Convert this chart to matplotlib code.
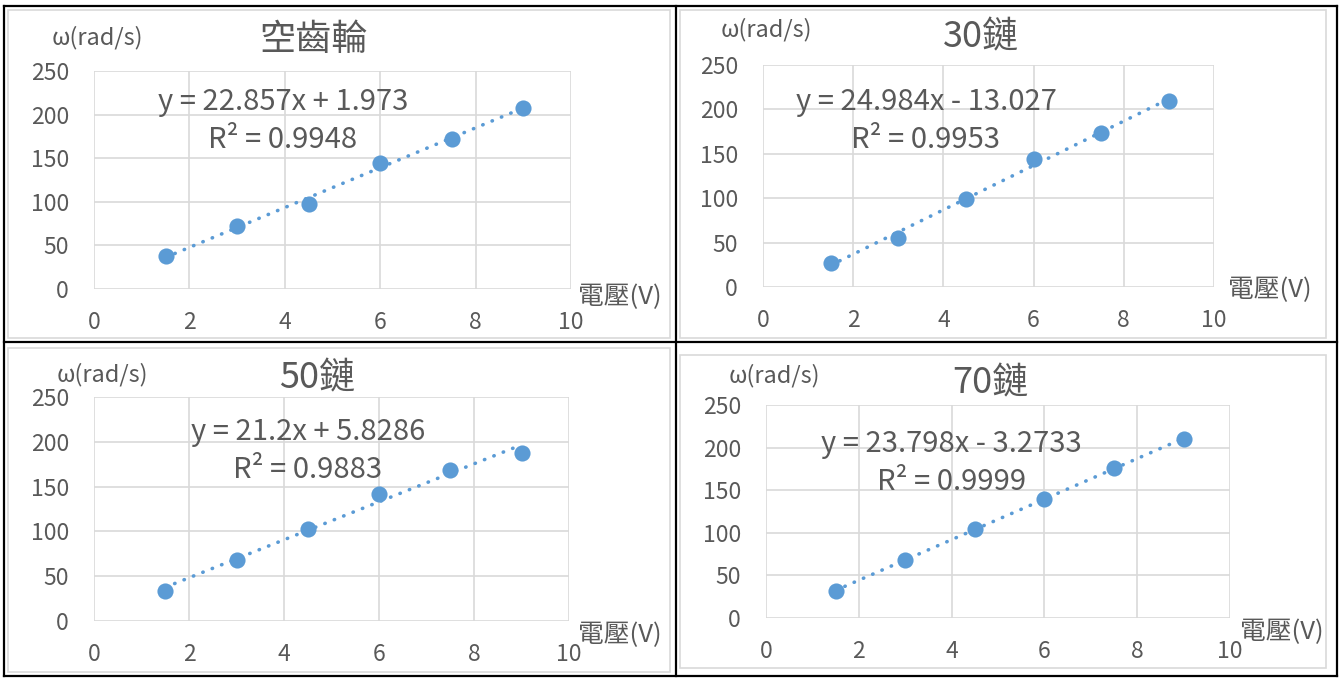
import numpy as np
import matplotlib
matplotlib.use("Agg")
from matplotlib import pyplot as plt
from matplotlib.lines import Line2D
from matplotlib.patches import Rectangle

plt.rcParams['font.family'] = ['Noto Sans CJK TC', 'DejaVu Sans']

# 電壓(V)
voltage = [1.5, 3, 4.5, 6, 7.5, 9]

# 角速度 ω(rad/s)
omega_empty = [38, 72, 97, 145, 172, 208]
omega_30 = [27, 55, 99, 144, 173, 210]
omega_50 = [33, 68, 103, 142, 169, 187]
omega_70 = [32, 68, 104, 140, 176, 210]

titles = ['空齒輪', '30鏈', '50鏈', '70鏈']
slopes = [22.857, 24.984, 21.2, 23.798]
intercepts = [1.973, -13.027, 5.8286, -3.2733]
r2_values = [0.9948, 0.9953, 0.9883, 0.9999]
eq_labels = ['y = 22.857x + 1.973', 'y = 24.984x - 13.027',
             'y = 21.2x + 5.8286', 'y = 23.798x - 3.2733']

W, H = 1341, 678
fig = plt.figure(figsize=(W / 100, H / 100), dpi=100)

BLUE = '#5B9BD5'
GRID = '#D9D9D9'
TXT = '#595959'

def px(x, y):
    return x / W, 1 - y / H

# 版面 (像素): 繪圖區 left, right, top, bottom / 圖表框 / 文字位置
panels = [
    dict(ax=(94, 571, 71, 289), frame=(8, 670, 10, 338), title=(314, 40),
         ylab=(52, 38), xlab=(578, 297), eq=(283, 102), r2=(283, 140)),
    dict(ax=(763, 1214, 65, 287), frame=(680, 1326, 10, 338), title=(981, 37),
         ylab=(721, 30), xlab=(1228, 290), eq=(926, 102), r2=(925, 140)),
    dict(ax=(94, 569, 397, 621), frame=(8, 670, 348, 672), title=(317, 378),
         ylab=(57, 375), xlab=(578, 635), eq=(308, 432), r2=(308, 470)),
    dict(ax=(766, 1230, 405, 618), frame=(680, 1326, 355, 668), title=(990, 383),
         ylab=(729, 376), xlab=(1240, 632), eq=(951, 444), r2=(952, 482)),
]
series = [omega_empty, omega_30, omega_50, omega_70]

for i, p in enumerate(panels):
    fl, fr, ft, fb = p['frame']
    fig.add_artist(Rectangle(px(fl, fb), (fr - fl) / W, (fb - ft) / H,
                             transform=fig.transFigure, fill=False,
                             edgecolor=GRID, lw=1.2))

    l, r, t, b = p['ax']
    ax = fig.add_axes([l / W, 1 - b / H, (r - l) / W, (b - t) / H])
    ax.set_xlim(0, 10)
    ax.set_ylim(0, 250)
    ax.set_xticks(range(0, 11, 2))
    ax.set_yticks(range(0, 251, 50))
    ax.grid(True, color=GRID, lw=1.2)
    ax.set_axisbelow(True)
    for s in ax.spines.values():
        s.set_visible(False)
    ax.tick_params(length=0, labelsize=16.5, labelcolor=TXT)
    ax.tick_params(axis='x', pad=16)
    ax.tick_params(axis='y', pad=18)

    xs = np.array([voltage[0], voltage[-1]])
    ax.plot(xs, slopes[i] * xs + intercepts[i], color=BLUE, lw=2.6,
            linestyle=(0, (0.1, 2.7)), dash_capstyle='round', zorder=2)
    ax.scatter(voltage, series[i], s=135, color=BLUE, zorder=3, lw=0)

    fig.text(*px(*p['title']), titles[i], ha='center', va='center',
             fontsize=26, color=TXT, fontweight='light')
    fig.text(*px(*p['ylab']), 'ω(rad/s)', ha='left', va='center',
             fontsize=17, color=TXT)
    fig.text(*px(*p['xlab']), '電壓(V)', ha='left', va='center',
             fontsize=18.5, color=TXT)
    fig.text(*px(*p['eq']), eq_labels[i], ha='center', va='center',
             fontsize=21, color=TXT)
    fig.text(*px(*p['r2']), 'R² = %.4f' % r2_values[i], ha='center',
             va='center', fontsize=21, color=TXT)

# 表格框線
for x0, y0, x1, y1 in [(4, 6, 1337, 6), (4, 676, 1337, 676), (4, 6, 4, 676),
                       (1337, 6, 1337, 676), (676, 6, 676, 676),
                       (4, 342, 1337, 342)]:
    fig.add_artist(Line2D([x0 / W, x1 / W], [1 - y0 / H, 1 - y1 / H],
                          transform=fig.transFigure, color='black', lw=1.6))

fig.savefig('out.png', dpi=100)
